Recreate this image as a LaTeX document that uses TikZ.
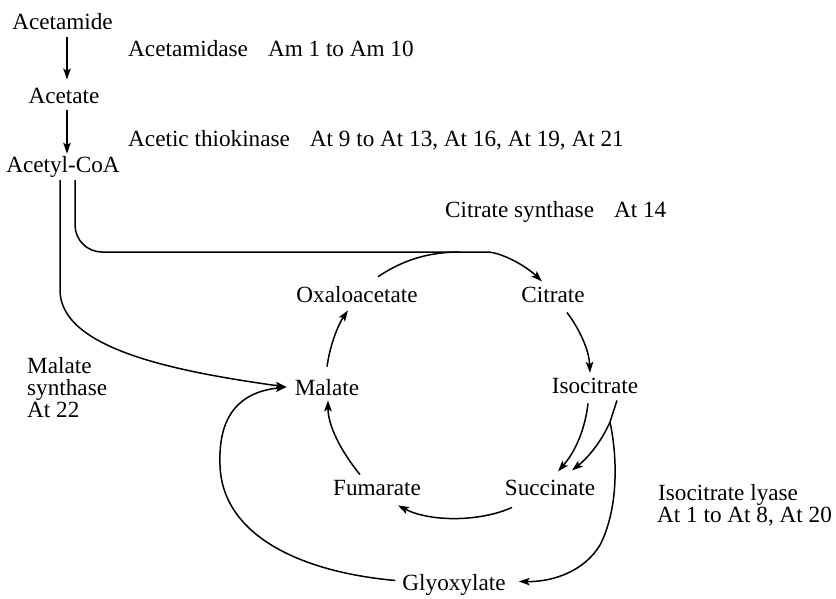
\documentclass[tikz,border=0pt]{standalone}
\usepackage{fontspec}
\setmainfont{Liberation Serif}
\usetikzlibrary{arrows.meta}
\tikzset{
  lbl/.style={inner sep=0pt, anchor=base, font=\fontsize{23.2pt}{22pt}\selectfont},
  lblw/.style={lbl, anchor=base west},
  conn/.style={line width=1.5pt},
  arr/.style={conn, -{Stealth[length=11pt,width=7.5pt,inset=2.5pt]}},
}
\begin{document}
\begin{tikzpicture}[x=1pt,y=-1pt]
\useasboundingbox (0,0) rectangle (836,598);
% metabolites
\node[lbl] (acetamide) at (62.5,29) {Acetamide};
\node[lbl] (acetate) at (64,103) {Acetate};
\node[lbl] (acetyl) at (63,172) {Acetyl-CoA};
\node[lbl] (oxalo) at (357,302) {Oxaloacetate};
\node[lbl] (citrate) at (553,302) {Citrate};
\node[lbl] (isocit) at (595,393) {Isocitrate};
\node[lbl] (malate) at (327,395) {Malate};
\node[lbl] (fumarate) at (377,495) {Fumarate};
\node[lbl] (succinate) at (550,495) {Succinate};
\node[lbl] (glyox) at (454,590) {Glyoxylate};
% enzyme labels
\node[lblw] (amidase) at (128,56) {Acetamidase\hspace{20pt}Am 1 to Am 10};
\node[lblw] (thiok) at (128,146) {Acetic thiokinase\hspace{20pt}At 9 to At 13, At 16, At 19, At 21};
\node[lblw] (citsyn) at (445,217) {Citrate synthase\hspace{20pt}At 14};
\node[lblw, align=left] (malsyn) at (27,417) {Malate\\synthase\\At 22};
\node[lblw] (lyaseA) at (658,500) {Isocitrate lyase};
\node[lblw] (lyaseB) at (657,522) {At 1 to At 8, At 20};
% helper points
\coordinate (join) at (460,252);
\coordinate (branch) at (610,422);
% connectors
\draw[arr] ([xshift=4.5pt,yshift=-8pt]acetamide.south) -- ([xshift=3pt,yshift=8pt]acetate.north);
\draw[arr] ([xshift=3pt,yshift=-7pt]acetate.south) -- ([xshift=4pt,yshift=2pt]acetyl.north);
\draw[arr] ([xshift=-3pt,yshift=-3pt]acetyl.south) -- (60,290)
  .. controls (60,350) and (180,372) .. ([xshift=-8pt]malate.west);
\draw[arr] ([xshift=12pt,yshift=-3pt]acetyl.south) [rounded corners=27pt] -- (75,252) -- (join) [sharp corners]
  .. controls (500,252) and (525,265) .. ([xshift=-11pt,yshift=5pt]citrate.north);
\draw[conn] ([xshift=21pt,yshift=9pt]oxalo.north) .. controls (400,262) and (425,252) .. (join);
\draw[arr] ([xshift=14pt,yshift=-10pt]citrate.south) .. controls (580,330) and (589,350) .. ([xshift=-5pt,yshift=4.6pt]isocit.north);
\draw[arr] ([xshift=-7pt,yshift=-10pt]isocit.south) .. controls (585,430) and (575,452) .. ([xshift=8pt,yshift=8pt]succinate.north);
\draw[arr] ([xshift=22pt,yshift=-7pt]isocit.south) -- (branch) .. controls (602,440) and (590,456) .. ([xshift=22pt,yshift=9pt]succinate.north);
\draw[arr] (branch) .. controls (618,460) and (618,510) .. (600,545) .. controls (585,570) and (555,582) .. ([xshift=13pt,yshift=3pt]glyox.east);
\draw[arr] ([xshift=-38pt,yshift=-12pt]succinate.south) .. controls (480,522) and (430,522) .. ([xshift=21pt,yshift=-10pt]fumarate.south);
\draw[arr] ([xshift=-17pt,yshift=5pt]fumarate.north) .. controls (340,450) and (328,425) .. ([xshift=1pt,yshift=-5pt]malate.south);
\draw[arr] ([yshift=12pt]malate.north) .. controls (330,345) and (338,325) .. ([xshift=-9pt,yshift=-8pt]oxalo.south);
\draw[arr] ([xshift=-7pt,yshift=4pt]glyox.west) .. controls (300,572) and (222,535) .. (220,465)
  .. controls (218,415) and (240,392) .. ([xshift=-8pt]malate.west);
\end{tikzpicture}
\end{document}
